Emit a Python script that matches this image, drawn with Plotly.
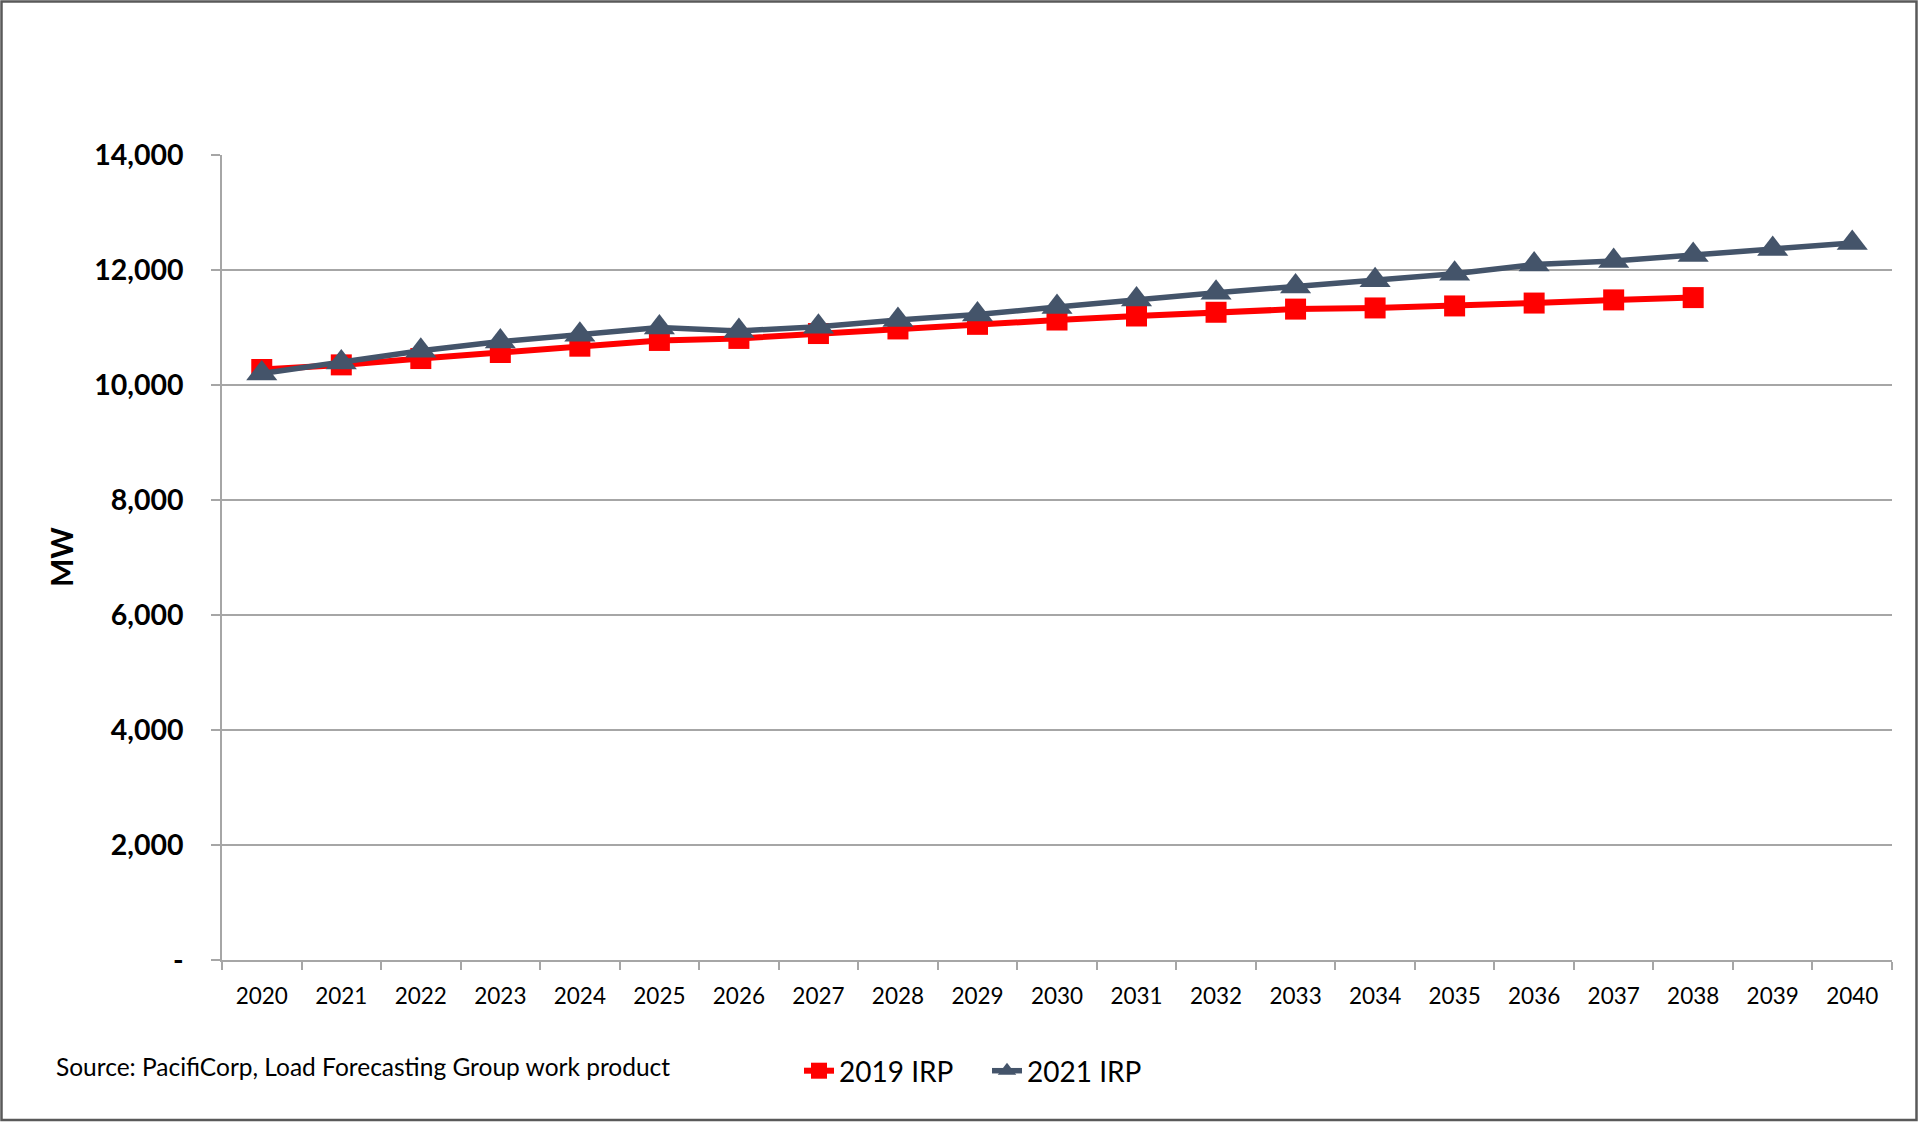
import plotly.graph_objects as go

# ---- data ----
years = [str(y) for y in range(2020, 2041)]
irp_2019 = [10270, 10350, 10460, 10565, 10675, 10775, 10810, 10895, 10975, 11055,
            11130, 11200, 11265, 11320, 11340, 11375, 11425, 11480, 11520]
irp_2021 = [10200, 10390, 10595, 10755, 10875, 11000, 10940, 11015, 11130, 11225,
            11355, 11485, 11605, 11715, 11820, 11935, 12095, 12155, 12260, 12365, 12470]
y_tickvals = [0, 2000, 4000, 6000, 8000, 10000, 12000, 14000]
y_ticktext = ["-", "2,000", "4,000", "6,000", "8,000", "10,000", "12,000", "14,000"]
source_text = "Source: PacifiCorp, Load Forecasting Group work product"

FONT = "Lato"
W, H = 1919, 1122
L, R, T, B = 222, 27, 155, 162
PW, PH = W - L - R, H - T - B


def px_x(x):
    return (x - L) / PW


def px_y(y):
    return (H - B - y) / PH


fig = go.Figure()
fig.add_trace(go.Scatter(
    x=years[:len(irp_2019)], y=irp_2019, name="2019 IRP", mode="lines+markers",
    line=dict(color="#FF0000", width=6),
    marker=dict(symbol="square", size=21, color="#FF0000"),
))
fig.add_trace(go.Scatter(
    x=years, y=irp_2021, name="2021 IRP", mode="lines+markers",
    line=dict(color="#44546A", width=5.5),
    marker=dict(symbol="triangle-up", size=27, color="#44546A"),
))

fig.update_layout(
    width=W, height=H,
    margin=dict(l=L, r=R, t=T, b=B, autoexpand=False),
    paper_bgcolor="white", plot_bgcolor="white",
    font=dict(family=FONT, color="black"),
    showlegend=True,
    legend=dict(orientation="h", x=px_x(799), y=px_y(1071), xanchor="left", yanchor="middle",
                font=dict(family=FONT, size=28, color="black"), bgcolor="rgba(0,0,0,0)",
                tracegroupgap=0, itemwidth=30, entrywidth=143, entrywidthmode="pixels"),
    xaxis=dict(
        type="category", categoryorder="array", categoryarray=years,
        range=[-0.5, 20.5], tickson="boundaries", ticks="outside", ticklen=8,
        tickcolor="#A6A6A6", tickwidth=1.5, showline=True, linecolor="#A6A6A6", linewidth=1.5,
        showgrid=False, zeroline=False, tickfont=dict(family=FONT, size=22.5, color="black"),
        ticklabelstandoff=15,
    ),
    yaxis=dict(
        range=[0, 14000], tickvals=y_tickvals, ticktext=y_ticktext,
        ticks="outside", ticklen=9, tickcolor="#A6A6A6", tickwidth=1.5,
        showline=True, linecolor="#A6A6A6", linewidth=1.5,
        showgrid=True, gridcolor="#A6A6A6", gridwidth=1.5, zeroline=False,
        tickfont=dict(family=FONT, size=28.5, color="black", weight="bold"),
        ticklabelstandoff=22,
    ),
    annotations=[
        dict(text="<b>MW</b>", xref="paper", yref="paper", x=px_x(61), y=px_y(557),
             xanchor="center", yanchor="middle", textangle=-90, showarrow=False,
             font=dict(family=FONT, size=30, color="black")),
        dict(text=source_text, xref="paper", yref="paper", x=px_x(54), y=px_y(1066),
             xanchor="left", yanchor="middle", showarrow=False,
             font=dict(family=FONT, size=24.5, color="black")),
    ],
    shapes=[
        dict(type="rect", xref="paper", yref="paper", x0=px_x(1.5), x1=px_x(1916.5),
             y0=px_y(1120), y1=px_y(1.5), line=dict(color="#595959", width=2.5),
             fillcolor="rgba(0,0,0,0)", layer="below"),
    ],
)

fig.write_html("out.html")
